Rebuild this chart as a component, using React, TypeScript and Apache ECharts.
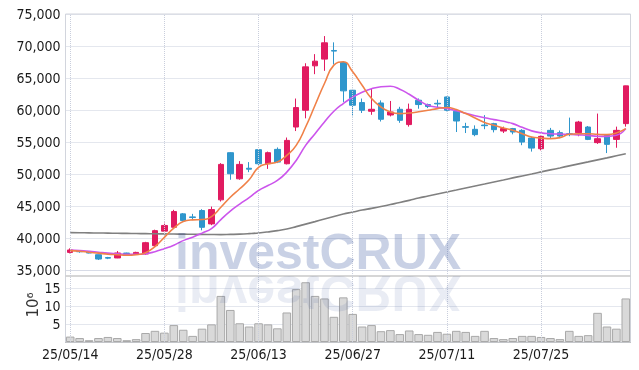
import React, { useEffect, useRef } from 'react';
import * as echarts from 'echarts';

const dates = [
  '25/05/14','25/05/15','25/05/16','25/05/19','25/05/20','25/05/21','25/05/22','25/05/23','25/05/26','25/05/27',
  '25/05/28','25/05/29','25/05/30','25/06/02','25/06/04','25/06/05','25/06/09','25/06/10','25/06/11','25/06/12',
  '25/06/13','25/06/16','25/06/17','25/06/18','25/06/19','25/06/20','25/06/23','25/06/24','25/06/25','25/06/26',
  '25/06/27','25/06/30','25/07/01','25/07/02','25/07/03','25/07/04','25/07/07','25/07/08','25/07/09','25/07/10',
  '25/07/11','25/07/14','25/07/15','25/07/16','25/07/17','25/07/18','25/07/21','25/07/22','25/07/23','25/07/24',
  '25/07/25','25/07/28','25/07/29','25/07/30','25/07/31','25/08/01','25/08/04','25/08/05','25/08/06','25/08/07',
];

// [open, close, low, high]
const ohlc = [
  [37750,38130,37600,38380],[37900,37850,37700,38000],[37900,37650,37600,37950],[37390,36710,36560,37400],
  [36950,36850,36700,37050],[36880,37660,36850,37970],[37650,37580,37450,37700],[37500,37750,37400,37850],
  [37500,39270,37400,39400],[38800,41150,38600,41300],[41070,41960,40900,42400],[41670,44130,41500,44400],
  [43770,42720,42600,43900],[43300,43200,42800,43770],[44290,41670,41200,44500],[42200,44440,42000,44910],
  [45960,51500,45700,51700],[53330,50040,49100,53400],[49250,51500,49100,52010],[50900,50750,50290,51860],
  [53800,51600,51400,53900],[51600,53330,50800,53500],[53850,51860,51700,54150],[51600,55250,51500,55700],
  [57340,60380,56710,61790],[59960,66740,58700,67300],[66900,67630,65600,68730],[67950,70500,66120,71550],
  [69300,69200,67120,70570],[67430,62990,61260,67600],[63090,60740,59020,63300],[61160,59960,59530,61790],
  [59800,60110,59250,63360],[61100,58550,58200,61500],[59220,59690,59000,61410],[60110,58390,58000,60500],
  [57720,60110,57400,61000],[61530,60850,60200,61800],[60850,60540,60300,61000],[61050,60950,60300,61600],
  [62040,59960,59800,62100],[59800,58280,56560,59900],[57400,57300,56400,58000],[56980,56150,55900,57600],
  [57650,57550,57000,59200],[57870,56930,56500,58000],[56710,57090,56400,57400],[57090,56560,56200,57200],
  [56820,54990,54500,57000],[55620,54050,53500,55800],[53950,55880,53700,56000],[56820,55930,55600,57200],
  [56460,55930,55600,56800],[56300,56150,55900,58810],[56460,58120,55900,58300],[57340,55410,55300,57500],
  [54900,55520,54700,59440],[56040,54630,53270,56100],[55410,56820,54100,57400],[57870,63770,57400,63800],
];

const maShort = [
  38020,37940,37780,37630,37470,37390,37310,37390,37710,38650,
  40100,41540,42560,42830,42880,43350,44800,46370,47690,49100,
  51030,51600,51860,52900,54470,57340,60740,64140,67010,67530,
  65960,63870,61790,60470,59690,59440,59530,59720,59960,60220,
  60380,60070,59440,58750,58030,57610,57180,56820,56300,55770,
  55620,55520,55680,56200,56300,56300,56200,56150,56400,57090,
];

const maMid = [
  38100,38020,37940,37780,37630,37550,37470,37470,37550,37860,
  38330,38880,39590,40130,40760,41470,42880,44210,45300,46320,
  47420,48200,48990,50290,52120,54470,56300,58120,59800,61010,
  62000,62780,63330,63640,63720,63250,62460,61520,60740,60430,
  60220,59880,59490,59100,58780,58500,58230,57870,57290,56740,
  56430,56300,56240,56200,56120,56040,55880,55880,56040,57090,
];

const maLong = [
  40840,40820,40800,40780,40760,40740,40720,40700,40680,40660,
  40640,40620,40600,40580,40560,40540,40530,40560,40600,40680,
  40790,40950,41150,41420,41780,42170,42560,42960,43350,43740,
  44050,44370,44630,44910,45230,45540,45880,46250,46560,46880,
  47190,47500,47820,48130,48440,48760,49070,49390,49700,50010,
  50330,50640,50950,51270,51580,51890,52210,52520,52840,53150,
];

// volume in millions of shares
const volumes = [
  1.5,1.1,0.5,1.1,1.4,1.1,0.5,0.8,2.5,3.1,
  2.6,4.7,3.4,1.7,3.7,4.9,12.8,8.9,5.2,4.3,
  5.2,4.9,3.8,8.2,14.7,16.6,12.8,12.1,7.0,12.4,
  7.8,4.3,4.7,3.0,3.3,2.2,3.2,2.2,2.0,2.8,
  2.3,3.1,2.8,1.7,3.1,1.1,0.8,1.1,1.7,1.7,
  1.4,1.1,0.8,3.1,1.7,1.9,8.1,4.3,3.7,12.1,
];

const gridDates = ['25/05/14','25/05/28','25/06/13','25/06/27','25/07/11','25/07/25'];

const RED = '#e11b60';
const BLUE = '#2f96cc';
const FONT = "'DejaVu Sans Condensed', 'Liberation Sans', sans-serif";

export default function App() {
  const ref = useRef<HTMLDivElement>(null);
  useEffect(() => {
    document.body.style.margin = '0';
    const chart = echarts.init(ref.current!, null, { renderer: 'svg' });
    const L = 65.5;
    const W = 565;
    const dotted = { color: '#c9cedc', type: 'dotted' as const, width: 1 };
    const vLines = {
      silent: true,
      symbol: ['none', 'none'],
      label: { show: false },
      lineStyle: { ...dotted },
      emphasis: { disabled: true },
      data: gridDates.map((d) => ({ xAxis: d })),
    };
    const option: any = {
      animation: false,
      grid: [
        { left: L, top: 14, width: W, height: 256 },
        { left: L, top: 270, width: W, height: 72 },
      ],
      xAxis: [
        {
          type: 'category', gridIndex: 0, data: dates, boundaryGap: true,
          axisLine: { show: false }, axisTick: { show: false }, axisLabel: { show: false }, splitLine: { show: false },
        },
        {
          type: 'category', gridIndex: 1, data: dates, boundaryGap: true,
          axisLine: { show: true, lineStyle: { color: '#b5b5b5', width: 1 } },
          axisTick: { show: false },
          axisLabel: { interval: 9, color: '#1a1a1a', fontSize: 14, fontFamily: FONT, margin: 5 },
          splitLine: { show: false },
        },
      ],
      yAxis: [
        {
          type: 'value', gridIndex: 0, min: 35000, max: 75000, interval: 5000,
          axisLine: { show: false }, axisTick: { show: false },
          axisLabel: {
            color: '#1a1a1a', fontSize: 14, fontFamily: FONT, margin: 5,
            formatter: (v: number) => v.toLocaleString('en-US'),
          },
          splitLine: { lineStyle: dotted },
        },
        {
          type: 'value', gridIndex: 1, min: 0, max: 20, interval: 5,
          axisLine: { show: false }, axisTick: { show: false },
          axisLabel: {
            color: '#1a1a1a', fontSize: 14, fontFamily: FONT, margin: 5,
            formatter: (v: number) => (v === 0 || v === 20 ? '' : String(v)),
          },
          splitLine: { lineStyle: dotted },
        },
      ],
      series: [
        {
          type: 'bar', xAxisIndex: 1, yAxisIndex: 1, data: volumes, barWidth: 8.6,
          itemStyle: { color: '#d9d9d9', borderColor: '#a9a9a9', borderWidth: 1 },
          markLine: vLines,
          z: 2,
        },
        {
          type: 'candlestick', xAxisIndex: 0, yAxisIndex: 0, data: ohlc, barWidth: 6,
          itemStyle: { color: RED, color0: BLUE, borderColor: RED, borderColor0: BLUE, borderWidth: 1 },
          markLine: vLines,
          z: 3,
        },
        {
          type: 'line', xAxisIndex: 0, yAxisIndex: 0, data: maLong, smooth: true, showSymbol: false,
          lineStyle: { color: '#808080', width: 1.6 }, z: 4,
        },
        {
          type: 'line', xAxisIndex: 0, yAxisIndex: 0, data: maMid, smooth: true, showSymbol: false,
          lineStyle: { color: '#cc55ec', width: 1.6 }, z: 4,
        },
        {
          type: 'line', xAxisIndex: 0, yAxisIndex: 0, data: maShort, smooth: true, showSymbol: false,
          lineStyle: { color: '#f08148', width: 1.6 }, z: 5,
        },
      ],
      graphic: [
        {
          type: 'rect', z: 1, silent: true,
          shape: { x: L, y: 14, width: W, height: 328 },
          style: { fill: 'none', stroke: '#d2d5dd', lineWidth: 1 },
        },
        {
          type: 'line', z: 1, silent: true,
          shape: { x1: L, y1: 276, x2: L + W, y2: 276 },
          style: { stroke: '#c9c9c9', lineWidth: 1.5 },
        },
        {
          type: 'text', z: 50, silent: true, x: 175, y: 252,
          style: {
            text: 'investCRUX', font: "bold 50px 'Liberation Sans', Arial, sans-serif",
            fill: 'rgba(40,70,150,0.25)', verticalAlign: 'middle', align: 'left',
          },
        },
        {
          type: 'group', z: 50, silent: true, x: 0, y: 545, scaleY: -1,
          children: [
            {
              type: 'text', x: 175, y: 252, z: 50,
              style: {
                text: 'investCRUX', font: "bold 50px 'Liberation Sans', Arial, sans-serif",
                fill: 'rgba(40,70,150,0.1)', verticalAlign: 'middle', align: 'left',
              },
            },
          ],
        },
        {
          type: 'text', z: 50, silent: true, x: 33, y: 305, rotation: Math.PI / 2,
          style: {
            text: '10⁶', font: "15px 'DejaVu Sans', sans-serif", fill: '#333',
            verticalAlign: 'middle', align: 'center',
          },
        },
      ],
    };
    chart.setOption(option);
    return () => chart.dispose();
  }, []);
  return (
    <div
      ref={ref}
      style={{ position: 'fixed', left: 0, top: 0, width: 639, height: 370 }}
    />
  );
}
